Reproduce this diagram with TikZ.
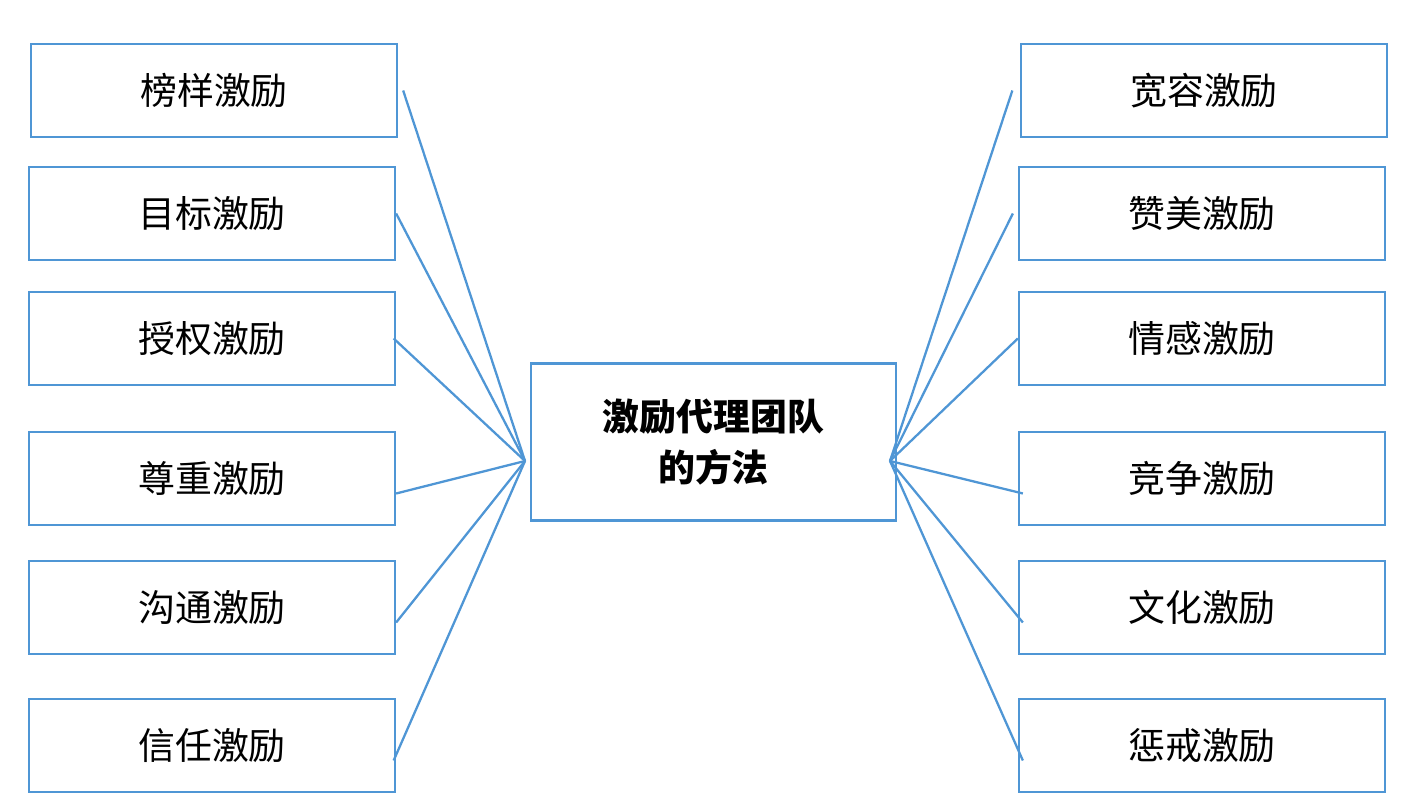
\documentclass[tikz,border=0pt]{standalone}
\usepackage{fontspec}
\setmainfont{Noto Sans CJK SC}
\usetikzlibrary{positioning}
\definecolor{boxblue}{RGB}{79,150,213}
\tikzset{
	method/.style={draw=boxblue, line width=1.3pt, rectangle, minimum width=7.32cm, minimum height=1.86cm, font=\fontsize{21}{24}\selectfont},
	center/.style={draw=boxblue, line width=1.3pt, rectangle, minimum width=7.3cm, minimum height=3.14cm, align=center, font=\fontsize{21}{29}\selectfont\bfseries},
}
\begin{document}
\begin{tikzpicture}
	\useasboundingbox (0,0) rectangle (28.44,16.12);
	
	\node (team) [center] at (14.27,7.28) {激励代理团队\\的方法};
	
	\node (l1) [method] at (4.28,14.31) {榜样激励};
	\node (l2) [method] at (4.24,11.85) {目标激励};
	\node (l3) [method] at (4.24,9.35) {授权激励};
	\node (l4) [method] at (4.24,6.55) {尊重激励};
	\node (l5) [method] at (4.24,3.97) {沟通激励};
	\node (l6) [method] at (4.24,1.21) {信任激励};
	
	\node (r1) [method] at (24.08,14.31) {宽容激励};
	\node (r2) [method] at (24.04,11.85) {赞美激励};
	\node (r3) [method] at (24.04,9.35) {情感激励};
	\node (r4) [method] at (24.04,6.55) {竞争激励};
	\node (r5) [method] at (24.04,3.97) {文化激励};
	\node (r6) [method] at (24.04,1.21) {惩戒激励};
	
	\coordinate (tl) at (10.5,6.9);
	\coordinate (tr) at (17.8,6.9);
	
	\begin{scope}[boxblue, line width=1.3pt]
		\draw (l1.east) ++(0.1,0) -- (tl);
		\draw (l2.east) -- (tl);
		\draw (l3.east) ++(-0.05,0) -- (tl);
		\draw (l4.east) ++(0,-0.3) -- (tl);
		\draw (l5.east) ++(0,-0.3) -- (tl);
		\draw (l6.east) ++(-0.05,-0.3) -- (tl);
		\draw (r1.west) ++(-0.15,0) -- (tr);
		\draw (r2.west) ++(-0.1,0) -- (tr);
		\draw (r3.west) -- (tr);
		\draw (r4.west) ++(0.1,-0.3) -- (tr);
		\draw (r5.west) ++(0.1,-0.3) -- (tr);
		\draw (r6.west) ++(0.1,-0.3) -- (tr);
	\end{scope}
\end{tikzpicture}
\end{document}
